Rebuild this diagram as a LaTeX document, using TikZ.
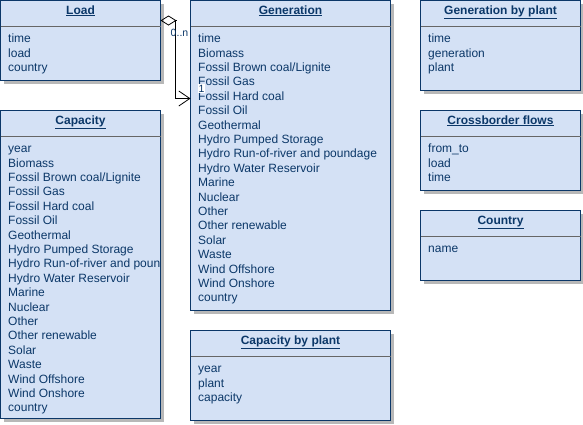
\documentclass[tikz,border=0pt]{standalone}
\usepackage{fontspec}
\setmainfont{Liberation Sans}
\usepackage{tikz}
\usepackage{xcolor}
\usetikzlibrary{arrows.meta, positioning, shadows}
\definecolor{umlline}{HTML}{0B3768}
\definecolor{umlfill}{HTML}{D4E1F5}
\definecolor{umlsep}{HTML}{666666}
\definecolor{umlshadow}{HTML}{B8B8B8}
\newcommand{\umlclass}[3]{%
  \node[clstitle] (#1-title) at ([yshift=-13.5pt]#1.north) {\underline{#2}};
  \draw[clssep] ([yshift=-26pt]#1.north west) -- ([yshift=-26pt]#1.north east);
  \begin{scope}
    \clip (#1.north west) rectangle (#1.south east);
    \node[clsattr] (#1-attr) at ([xshift=7.5pt,yshift=-32pt]#1.north west) {\strut #3};
  \end{scope}}

\begin{document}
\begin{tikzpicture}[
    x=1pt, y=-1pt,
    cls/.style={draw=umlline, line width=1pt, fill=umlfill, inner sep=0pt, outer sep=0pt,
                drop shadow={shadow xshift=3pt, shadow yshift=-3pt, fill=umlshadow, opacity=1}},
    clstitle/.style={font=\fontsize{12pt}{14.4pt}\selectfont\bfseries, text=umlline, anchor=base, inner sep=0pt},
    clsattr/.style={font=\fontsize{12pt}{14.4pt}\selectfont, text=umlline, align=left, anchor=north west, inner sep=0pt},
    clssep/.style={draw=umlsep, line width=1pt},
    mult/.style={font=\fontsize{10.5pt}{12pt}\selectfont, text=umlline, inner sep=1pt},
    assoc/.style={draw=black, line width=0.8pt, {Diamond[open, length=16pt, width=10pt]}-{Straight Barb[length=11pt, width=15pt]}},
    ]
    \useasboundingbox (0,0) rectangle (583,424);

    % left column
    \node[cls, minimum width=160pt, minimum height=80pt, anchor=north west] (load) at (0.5,0.5) {};
    \node[cls, minimum width=160pt, minimum height=308pt, below=30pt of load.south west, anchor=north west] (cap) {};

    % middle column
    \node[cls, minimum width=200pt, minimum height=310pt, right=30pt of load.north east, anchor=north west] (gen) {};
    \node[cls, minimum width=200pt, minimum height=90pt, below=20pt of gen.south west, anchor=north west] (capplant) {};

    % right column
    \node[cls, minimum width=160pt, minimum height=90pt, right=30pt of gen.north east, anchor=north west] (genplant) {};
    \node[cls, minimum width=160pt, minimum height=80pt, below=20pt of genplant.south west, anchor=north west] (flows) {};
    \node[cls, minimum width=160pt, minimum height=70pt, below=20pt of flows.south west, anchor=north west] (country) {};

    % headers and attributes
    \umlclass{load}{Load}{time\\load\\country}
    \umlclass{cap}{Capacity}{year\\Biomass\\Fossil Brown coal/Lignite\\Fossil Gas\\Fossil Hard coal\\Fossil Oil\\Geothermal\\Hydro Pumped Storage\\Hydro Run-of-river and poundage\\Hydro Water Reservoir\\Marine\\Nuclear\\Other\\Other renewable\\Solar\\Waste\\Wind Offshore\\Wind Onshore\\country}
    \umlclass{gen}{Generation}{time\\Biomass\\Fossil Brown coal/Lignite\\Fossil Gas\\Fossil Hard coal\\Fossil Oil\\Geothermal\\Hydro Pumped Storage\\Hydro Run-of-river and poundage\\Hydro Water Reservoir\\Marine\\Nuclear\\Other\\Other renewable\\Solar\\Waste\\Wind Offshore\\Wind Onshore\\country}
    \umlclass{capplant}{Capacity by plant}{year\\plant\\capacity}
    \umlclass{genplant}{Generation by plant}{time\\generation\\plant}
    \umlclass{flows}{Crossborder flows}{from\_to\\load\\time}
    \umlclass{country}{Country}{name}

    % Load -- Generation association
    \draw[assoc] ([yshift=-20pt]load.north east) -- ++(15,0) |- ([yshift=-98pt]gen.north west);
    \node[mult] (mult-load) at ([xshift=19pt,yshift=-32pt]load.north east) {0..n};
    \node[mult, fill=white] (mult-gen) at ([xshift=11pt,yshift=-88pt]gen.north west) {1};
\end{tikzpicture}
\end{document}
